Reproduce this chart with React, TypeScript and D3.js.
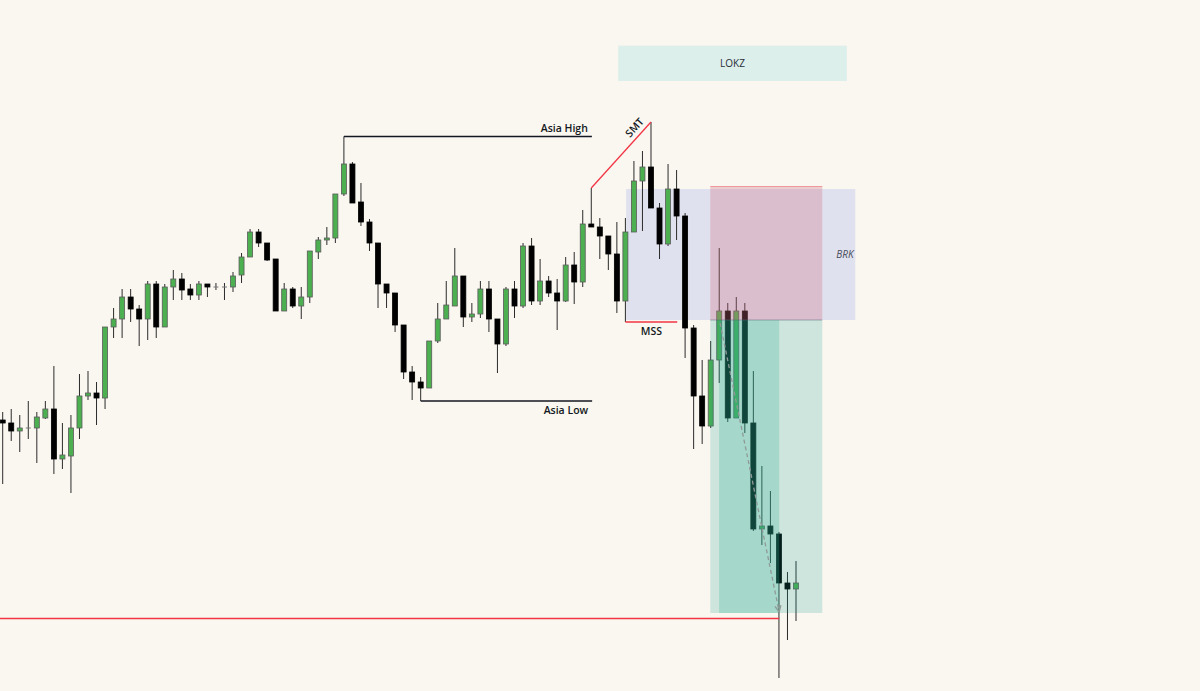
import React from "react";
import * as d3 from "d3";

// OHLC (price units, arbitrary scale)
const opens = [280,277,269,272,272,282,291,241,244,272,304,307,302,373,381,403,391,381,416,373,413,421,411,405,416,413,413,413,425,443,468,457,441,389,411,394,403,448,460,462,506,536,498,478,457,416,407,375,328,318,312,359,381,394,424,383,386,411,381,356,411,394,454,399,419,407,399,435,418,476,473,464,446,399,468,519,533,492,456,511,484,372,304,274,340,389,282,389,277,171,174,166,117,111];
const highs = [288,291,285,299,288,299,334,277,285,326,329,318,373,392,411,411,395,419,419,416,430,427,416,419,416,417,417,428,447,471,471,457,441,417,413,413,449,463,473,506,563.5,538,517,481,457,416,407,375,334,323,359,397,419,452,424,397,419,419,381,413,419,457,462,441,424,421,443,448,490,512,482,464,478,482,539,549,578,497,536,530,487,375,340,359,452,397,403,397,329,234,209,168,128,139];
const lows = [216,259,248,261,237,281,226,231,207,261,300,275,291,362,362,378,354,360,362,373,400,400,400,400,403,410,400,408,417,443,453,439,389,389,392,381,397,441,455,457,504,497,474,449,392,392,368,321,300,299,312,357,381,394,373,378,382,368,327,354,382,392,395,395,403,370,398,396,413,473,441,430,387,378,468,469,492,441,454,460,342,251,256,272,317,278,282,267,169,155,137,22,60,79];
const closes = [277,269,272,272,283,291,241,245,272,304,307,302,373,381,403,391,381,416,373,413,421,410,405,416,413,413,413,424,443,468,457,440,389,411,394,403,449,460,462,506,536,497,478,457,416,407,375,328,318,312,359,381,395,424,383,386,411,381,356,411,394,454,399,419,407,399,435,418,476,473,464,446,399,468,519,533,492,456,511,484,372,304,274,340,389,282,389,277,171,174,166,117,111,117];

// Annotation levels (candle index / price)
const asiaHigh = { from: 40, to: 69.07, price: 563.5, label: "Asia High" };
const asiaLow = { from: 49, to: 69.1, price: 299, label: "Asia Low" };
const smt = { from: 69, to: 76, label: "SMT" };
const mss = { from: 73, to: 79.08, price: 378, label: "MSS" };
const lokz = { x0: 72.16, x1: 98.96, p0: 619, p1: 654.3, label: "LOKZ" };
const brk = { x0: 73.09, x1: 99.95, p0: 380, p1: 511, label: "BRK" };
const stopZone = { x0: 82.95, x1: 96.08, p0: 380, p1: 514 };
const targetZone = { x0: 82.95, x1: 96.08, p0: 87, p1: 380 };
const targetInner = { x0: 83.99, x1: 91.03, p0: 87, p1: 380 };
const targetLine = { x0: -1, x1: 91.03, price: 81.5 };
const pathArrow = { x0: 84.1, p0: 377, x1: 91.03, p1: 88 };

const W = 1200;
const H = 691;

export default function App() {
  const x = d3.scaleLinear().domain([0, opens.length - 1]).range([2.7, 796]);
  const y = d3.scaleLinear().domain([0, 700]).range([700, 0]);
  const bw = 5;
  const font = "'Open Sans', 'DejaVu Sans', sans-serif";
  const ink = "#131722";
  const red = "#f23645";

  const candles = opens.map((o, i) => {
    const c = closes[i];
    const up = c > o;
    const doji = c === o;
    const top = y(Math.max(o, c));
    const bot = y(Math.min(o, c));
    const cx = x(i);
    return (
      <g key={i}>
        <line x1={cx} x2={cx} y1={y(highs[i])} y2={y(lows[i])} stroke="#2b2b2b" strokeWidth={1} />
        {doji ? (
          <line x1={cx - bw / 2} x2={cx + bw / 2} y1={top} y2={top} stroke="#777" strokeWidth={1} />
        ) : (
          <rect
            x={cx - bw / 2}
            y={top}
            width={bw}
            height={Math.max(1, bot - top)}
            fill={up ? "#4caf50" : "#000"}
            stroke={up ? "#5b5b5b" : "#000"}
            strokeWidth={0.8}
          />
        )}
      </g>
    );
  });

  const rect = (b: { x0: number; x1: number; p0: number; p1: number }, fill: string, extra: any = {}) => (
    <rect x={x(b.x0)} y={y(b.p1)} width={x(b.x1) - x(b.x0)} height={y(b.p0) - y(b.p1)} fill={fill} {...extra} />
  );

  const smtX0 = x(smt.from), smtY0 = y(highs[smt.from]);
  const smtX1 = x(smt.to), smtY1 = y(highs[smt.to]);
  const smtAngle = (Math.atan2(smtY1 - smtY0, smtX1 - smtX0) * 180) / Math.PI;

  const ax0 = x(pathArrow.x0), ay0 = y(pathArrow.p0), ax1 = x(pathArrow.x1), ay1 = y(pathArrow.p1);
  const ang = Math.atan2(ay1 - ay0, ax1 - ax0);
  const ah = 7;
  const arrowPts = [
    [ax1 - ah * Math.cos(ang - 0.45), ay1 - ah * Math.sin(ang - 0.45)],
    [ax1, ay1],
    [ax1 - ah * Math.cos(ang + 0.45), ay1 - ah * Math.sin(ang + 0.45)],
  ];

  return (
    <svg width={W} height={H} style={{ position: "absolute", left: 0, top: 0, display: "block" }}>
      <rect x={0} y={0} width={W} height={H} fill="#faf7f0" />

      {/* LOKZ session box */}
      {rect(lokz, "#dcefeb")}
      <text x={(x(lokz.x0) + x(lokz.x1)) / 2} y={(y(lokz.p0) + y(lokz.p1)) / 2} dy="0.35em" textAnchor="middle" fontFamily={font} fontSize={10} fill="#2a2e39">
        {lokz.label}
      </text>

      {/* BRK box (under candles) */}
      {rect(brk, "#e0e1ee")}
      <text x={x(brk.x1) - 19} y={(y(brk.p0) + y(brk.p1)) / 2} dy="0.35em" textAnchor="start" fontFamily={font} fontStyle="italic" fontSize={10} fill="#464a58">
        {brk.label}
      </text>

      {candles}

      {/* risk / reward zones (over candles) */}
      {rect(stopZone, "rgba(210,108,128,0.3)")}
      <line x1={x(stopZone.x0)} x2={x(stopZone.x1)} y1={y(stopZone.p1) + 0.5} y2={y(stopZone.p1) + 0.5} stroke="rgba(242,54,69,0.35)" strokeWidth={1} />
      {rect(targetZone, "rgba(25,162,140,0.2)")}
      {rect(targetInner, "rgba(49,178,152,0.25)")}
      <line x1={x(stopZone.x0)} x2={x(stopZone.x1)} y1={y(stopZone.p0)} y2={y(stopZone.p0)} stroke="rgba(90,100,120,0.5)" strokeWidth={1} />

      {/* dashed projected path */}
      <line x1={ax0} y1={ay0} x2={ax1} y2={ay1} stroke="#8f9a96" strokeWidth={1.3} strokeDasharray="4 3" />
      <polyline points={arrowPts.map((p) => p.join(",")).join(" ")} fill="none" stroke="#8f9a96" strokeWidth={1.3} />

      {/* target line */}
      <line x1={0} x2={x(targetLine.x1)} y1={y(targetLine.price)} y2={y(targetLine.price)} stroke={red} strokeWidth={1.3} />

      {/* Asia High */}
      <line x1={x(asiaHigh.from)} x2={x(asiaHigh.to)} y1={y(asiaHigh.price)} y2={y(asiaHigh.price)} stroke={ink} strokeWidth={1.6} />
      <text x={x(asiaHigh.to) - 4} y={y(asiaHigh.price) - 5} textAnchor="end" fontFamily={font} fontWeight={600} fontSize={10.5} fill={ink}>
        {asiaHigh.label}
      </text>

      {/* Asia Low */}
      <line x1={x(asiaLow.from)} x2={x(asiaLow.to)} y1={y(asiaLow.price)} y2={y(asiaLow.price)} stroke={ink} strokeWidth={1.6} />
      <text x={x(asiaLow.to) - 4} y={y(asiaLow.price) + 13} textAnchor="end" fontFamily={font} fontWeight={600} fontSize={10.5} fill={ink}>
        {asiaLow.label}
      </text>

      {/* SMT */}
      <line x1={smtX0} y1={smtY0} x2={smtX1} y2={smtY1} stroke={red} strokeWidth={1.3} />
      <text
        transform={`translate(${634.5},${127.5}) rotate(${smtAngle})`}
        dy="0.35em"
        textAnchor="middle"
        fontFamily={font}
        fontWeight={600}
        fontSize={10.5}
        fill={ink}
      >
        {smt.label}
      </text>

      {/* MSS */}
      <line x1={x(mss.from)} x2={x(mss.to)} y1={y(mss.price)} y2={y(mss.price)} stroke={red} strokeWidth={1.3} />
      <text x={(x(mss.from) + x(mss.to)) / 2} y={y(mss.price) + 13} textAnchor="middle" fontFamily={font} fontWeight={600} fontSize={10.5} fill={ink}>
        {mss.label}
      </text>
    </svg>
  );
}
